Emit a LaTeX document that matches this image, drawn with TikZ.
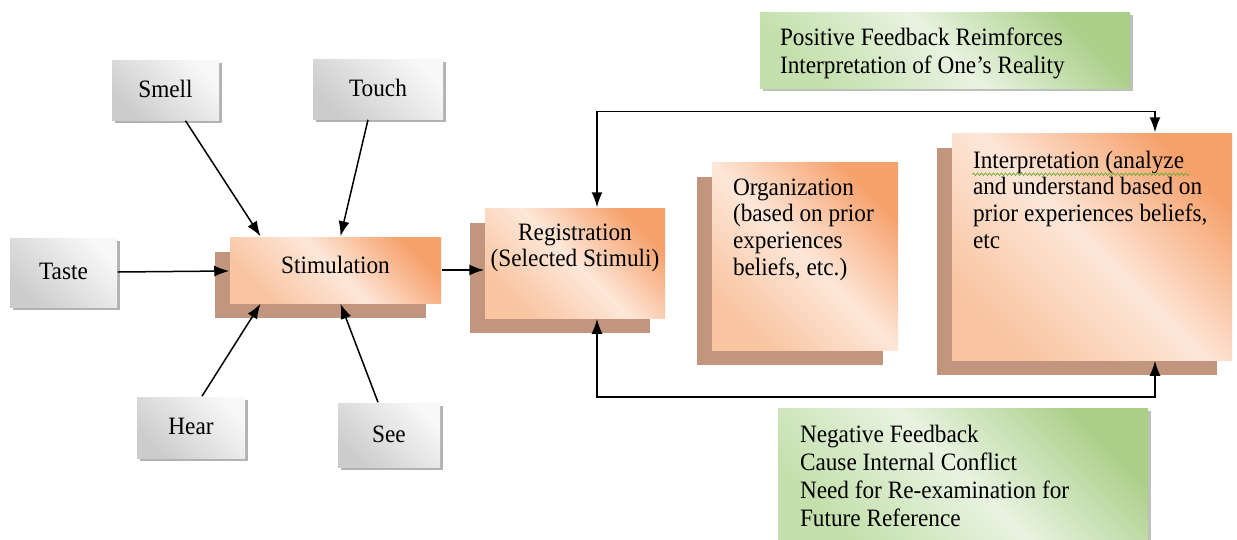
\documentclass[tikz,border=0pt]{standalone}
\usepackage{fontspec}
\setmainfont{Liberation Serif}[FakeStretch=0.93]
\usetikzlibrary{arrows.meta,shadows,decorations.pathmorphing}

\definecolor{orangedeep}{RGB}{246,160,106}
\definecolor{orangemid}{RGB}{249,196,160}
\definecolor{orangepale}{RGB}{253,231,217}
\definecolor{shadowbrown}{RGB}{194,150,126}
\definecolor{greendeep}{RGB}{170,207,136}
\definecolor{greenmid}{RGB}{196,224,172}
\definecolor{greenpale}{RGB}{232,243,225}
\definecolor{greyedge}{RGB}{204,204,204}
\definecolor{greylight}{RGB}{248,248,248}
\definecolor{squiggle}{RGB}{120,170,60}

% top aligned text: height, width, first baseline, text
\newcommand{\boxtext}[4]{\parbox[t][#1][t]{#2}{\raggedright\rule{0pt}{#3}#4}}

\begin{document}
\begin{tikzpicture}[x=1pt, y=-1pt, >={Latex[length=15pt,width=11pt]}, line width=1.5pt]
        \tikzset{
  sense/.style={
    rectangle,
    inner sep=0pt,
    text height=17pt,
    text depth=3pt,
    left color=greyedge,
    right color=greylight,
    shading angle=135,
    general shadow={fill=gray!60, shadow xshift=3pt, shadow yshift=-3pt},
    font=\fontsize{25}{27}\selectfont
  },
  stage/.style={
    rectangle,
    inner sep=0pt,
    left color=orangemid,
    right color=orangedeep,
    middle color=orangepale,
    shading angle=135,
    general shadow={fill=shadowbrown, shadow xshift=-15pt, shadow yshift=-15pt},
    font=\fontsize{25}{26.7}\selectfont
  },
  feedback/.style={
    rectangle,
    inner ysep=0pt,
    left color=greenmid,
    right color=greendeep,
    middle color=greenpale,
    shading angle=135,
    general shadow={fill=gray!50, shadow xshift=3pt, shadow yshift=-3pt},
    font=\fontsize{25}{28.3}\selectfont
  }
}
\useasboundingbox (0,0) rectangle (1237,539);

% the five senses
\foreach \n/\t/\x/\y/\w/\h in {smell/Smell/165.5/90/107/60, touch/Touch/378/89/130/60,
    taste/Taste/63.5/272.5/107/69, hear/Hear/191/427.5/108/61, see/See/389/435/102/64}
  \node [sense, minimum width=\w pt, minimum height=\h pt] (\n) at (\x,\y) {\t};

\node [stage, minimum width=211pt, minimum height=66pt, text height=17pt, text depth=11pt]
  (stim) at (335.5,270) {Stimulation};

\node [stage] (reg) at (575,263)
  {\parbox[t][110pt][t]{180pt}{\centering\rule{0pt}{32pt}Registration\\(Selected Stimuli)}};

\node [stage, inner xsep=21pt] (org) at (805,256)
  {\boxtext{188pt}{144pt}{33pt}{Organization\\(based on prior\\experiences\\beliefs, etc.)}};

\node [stage, inner xsep=21pt] (interp) at (1092,246.5)
  {\boxtext{227pt}{238pt}{35pt}{Interpretation (analyze\\and understand based on\\prior experiences beliefs,\\etc}};

\node [feedback, inner xsep=20pt] (pos) at (945,50)
  {\boxtext{76pt}{330pt}{33pt}{Positive Feedback Reimforces\\Interpretation of One's Reality}};

\node [feedback, inner xsep=22pt] (neg) at (963,474)
  {\boxtext{132pt}{326pt}{34pt}{Negative Feedback\\Cause Internal Conflict\\Need for Re-examination for\\Future Reference}};

% spell-check squiggle
\draw [squiggle, line width=0.8pt, decorate, decoration={snake, amplitude=1.2pt, segment length=4pt}]
  ([xshift=21pt, yshift=-42pt]interp.north west) -- ([xshift=238pt, yshift=-42pt]interp.north west);

% senses into stimulation
\draw [->] (taste) -- (stim);
\draw [->] (smell) -- ([xshift=-75pt]stim.north);
\draw [->] ([xshift=-10pt]touch.south) -- ([xshift=5pt]stim.north);
\draw [->] ([xshift=11pt]hear.north) -- ([xshift=-75pt]stim.south);
\draw [->] ([xshift=-11pt]see.north) -- ([xshift=5pt]stim.south);

\draw [->] (stim.east) -- (stim.east -| reg.west);

% feedback loops
\draw [<->] ([xshift=22pt]reg.north) -- ++(0,-96) -| ([xshift=63pt]interp.north);
\draw [<->] ([xshift=22pt]reg.south) -- ++(0,78) -| ([xshift=63pt]interp.south);
      \end{tikzpicture}
\end{document}
